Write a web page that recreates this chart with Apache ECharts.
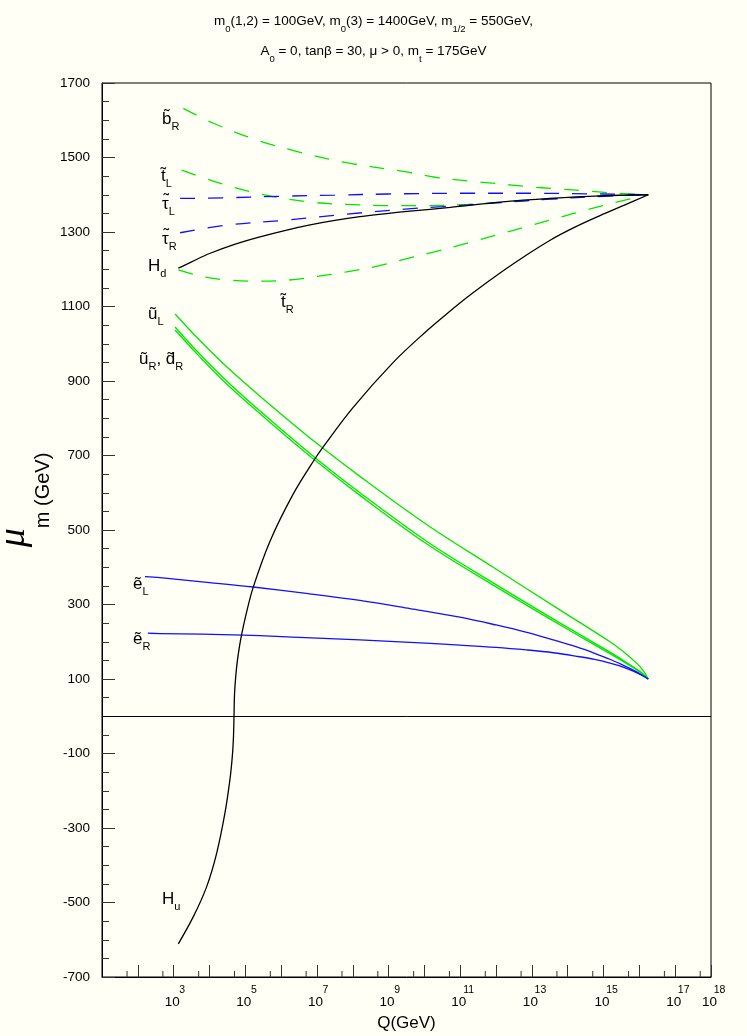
<!DOCTYPE html>
<html>
<head>
<meta charset="utf-8">
<title>running masses</title>
<script src="https://cdn.jsdelivr.net/npm/echarts@6.0.0/dist/echarts.min.js"></script>
<style>
html,body{margin:0;padding:0;background:#fffff5;}
#chart{width:747px;height:1036px;}
</style>
</head>
<body>
<div id="chart"></div>
<script>
// x = log10(Q/GeV), y = mass parameter in GeV
var bR   = [[3.27,1632],[4.11,1592],[5.32,1547],[6.53,1514],[7.83,1486],[9.45,1462],[10.30,1447],[11.23,1437],[12.02,1430],[12.86,1422],[13.69,1416],[14.58,1410],[15.32,1404],[16.25,1400]];
var tL   = [[3.22,1466],[4.0,1440],[4.53,1424],[5.32,1404],[6.20,1388],[6.95,1379],[7.83,1374],[9.0,1371],[10.0,1371],[11.23,1374],[12.9,1385],[14.58,1395],[16.25,1400]];
var tauL = [[3.18,1390],[4.5,1392],[6.0,1396],[7.5,1399],[9.0,1402],[11.0,1404],[13.0,1404],[15.0,1402],[16.25,1400]];
var tauR = [[3.18,1298],[4.53,1319],[6.15,1332],[7.83,1348],[9.55,1362],[10.5,1368],[12.0,1378],[13.5,1388],[15.0,1396],[16.25,1400]];
var tR   = [[3.13,1198],[3.6,1185],[4.0,1177],[4.53,1171],[5.32,1168],[6.2,1171],[6.95,1180],[7.83,1193],[8.62,1207],[9.4,1226],[10.3,1247],[11.23,1271],[12.02,1292],[12.9,1316],[13.69,1337],[14.58,1361],[15.32,1379],[16.25,1400]];
var Hd   = [[3.13,1203],[3.5,1220],[4.02,1243],[4.7,1267],[5.41,1287],[6.1,1304],[6.81,1319],[7.5,1331],[8.2,1341],[9.0,1350],[9.6,1356],[10.72,1366],[12.11,1380],[13.51,1390],[14.9,1397],[16.25,1400]];
var Hu   = [[3.13,-611],[3.55,-538],[3.92,-458],[4.2,-368],[4.43,-261],[4.57,-171],[4.64,-105],[4.67,-55],[4.685,0],[4.70,60],[4.73,103],[4.77,142],[4.84,189],[4.91,225],[5.02,273],[5.22,346],[5.69,470],[6.34,597],[6.95,692],[7.18,724],[8.0,828],[9.13,950],[10.0,1029],[10.62,1080],[11.32,1134],[12.11,1190],[12.8,1235],[13.51,1278],[14.2,1313],[14.9,1344],[15.6,1373],[16.25,1400]];
var uL   = [[3.04,1080],[3.7,1012],[4.48,938],[5.5,852],[6.95,736],[8.2,644],[10.06,515],[11.92,400],[13.79,285],[15.18,200],[15.6,170],[15.93,142],[16.1,124],[16.25,100]];
var uR   = [[3.04,1045],[3.7,975],[4.48,900],[5.5,812],[6.95,694],[8.2,600],[10.06,470],[11.92,358],[13.79,250],[15.18,172],[15.6,147],[15.93,126],[16.1,114],[16.25,100]];
var dR   = [[3.04,1037],[3.7,968],[4.48,892],[5.5,805],[6.95,687],[8.2,593],[10.06,463],[11.92,352],[13.79,245],[15.18,168],[15.6,144],[15.93,124],[16.1,113],[16.25,100]];
var eL   = [[2.2,375],[2.62,372],[4.0,359],[5.22,347],[6.7,330],[8.2,311],[9.6,289],[10.99,266],[12.0,245],[12.86,225],[13.6,205],[14.25,186],[14.75,169],[15.18,153],[15.55,137],[15.83,124],[16.05,112],[16.25,100]];
var eR   = [[2.28,223],[2.62,222],[4.95,218],[6.5,212],[8.2,205],[9.6,198.5],[10.99,191],[12.0,185],[12.86,178],[13.6,170.5],[14.25,161],[14.75,152.5],[15.18,142.5],[15.55,132],[15.83,121],[16.05,111],[16.25,100]];

var xLabelExp = [3,5,7,9,11,13,15,17,18];
var xMinorExp = [1,2,3,4,5,6,7,8,9,10,11,12,13,14,15,16,17];
var yMin = -700, yMax = 1700;

var font = '"Liberation Sans", Arial, sans-serif';
var green = '#00e600', blue = '#1010ff';

function curve(data, color, dashed, width) {
	return {
		type: 'line',
		data: data,
		symbol: 'none',
		smooth: 0.35,
		silent: true,
		lineStyle: {color: color, width: width || 1.3, type: dashed ? [15, 13] : 'solid'},
		z: 3
	};
}

// curve names; sep = tilde drawn as its own glyph (tau has no good combining tilde)
var curveLabels = [
	{t: 'b\u0303', s: 'R', x: 162, y: 117},
	{t: 't\u0303', s: 'L', x: 161, y: 174},
	{t: '\u03C4', sep: true, s: 'L', x: 162, y: 202},
	{t: '\u03C4', sep: true, s: 'R', x: 162, y: 237},
	{t: 'H', s: 'd', x: 148, y: 264},
	{t: 't\u0303', s: 'R', x: 281, y: 300},
	{t: '\u0169', s: 'L', x: 148, y: 312},
	{t: '\u0169', s: 'R', t2: ', d\u0303', s2: 'R', x: 139, y: 357},
	{t: '\u1EBD', s: 'L', x: 133, y: 582},
	{t: '\u1EBD', s: 'R', x: 133, y: 637},
	{t: 'H', s: 'u', x: 162, y: 897}
];
var labelRich = {
	a: {fontSize: 17, fontFamily: font, lineHeight: 20, color: '#000'},
	s: {fontSize: 11, fontFamily: font, lineHeight: 20, padding: [14, 0, 0, 0], color: '#000'}
};
var graphics = [];
curveLabels.forEach(function (l) {
	var txt = '{a|' + l.t + '}{s|' + l.s + '}';
	if (l.t2) txt += '{a|' + l.t2 + '}{s|' + l.s2 + '}';
	graphics.push({
		type: 'text', left: l.x, top: l.y - 10, silent: true,
		style: {text: txt, rich: labelRich, fill: '#000', font: '17px ' + font}
	});
	if (l.sep) {
		graphics.push({
			type: 'text', left: l.x + 1.5, top: l.y - 10, silent: true,
			style: {text: '{a|\u02DC}', rich: labelRich, fill: '#000', font: '17px ' + font}
		});
	}
});

var minorTickSeries = {
	type: 'custom',
	silent: true,
	clip: false,
	data: xMinorExp.map(function (e) { return [e + Math.log10(5), yMin]; }),
	renderItem: function (params, api) {
		var p = api.coord([api.value(0), api.value(1)]);
		return {type: 'line', shape: {x1: p[0], y1: p[1], x2: p[0], y2: p[1] - 6}, style: {stroke: '#333', lineWidth: 1}};
	},
	z: 4
};

var huSeries = curve(Hu, '#000', false, 1.3);
huSeries.markLine = {
	silent: true, symbol: ['none', 'none'], label: {show: false},
	lineStyle: {color: '#000', width: 1, type: 'solid'},
	data: [{yAxis: 0}]
};

var chart = echarts.init(document.getElementById('chart'), null, {renderer: 'canvas'});
chart.setOption({
	animation: false,
	backgroundColor: '#fffff5',
	title: {
		left: 'center',
		top: 6,
		padding: 0,
		text: 'm{s|0}(1,2) = 100GeV, m{s|0}(3) = 1400GeV, m{s|1/2} = 550GeV,\nA{s|0} = 0, tan\u03B2 = 30, \u03BC > 0, m{s|t} = 175GeV',
		textStyle: {
			fontSize: 13.5, fontWeight: 'normal', fontFamily: font, color: '#000', lineHeight: 30,
			rich: {s: {fontSize: 9.5, fontFamily: font, lineHeight: 30, padding: [17, 0, 0, 0], color: '#000'}}
		}
	},
	grid: {left: 102, right: 36, top: 83, bottom: 59, show: true, borderColor: '#000', borderWidth: 1, containLabel: false, outerBoundsMode: 'none'},
	xAxis: {
		type: 'value', min: 1, max: 18, interval: 1,
		axisLine: {onZero: false, lineStyle: {color: '#000', width: 1}},
		axisTick: {inside: true, length: 12, lineStyle: {color: '#333'}},
		splitLine: {show: false},
		axisLabel: {
			margin: 14, showMaxLabel: true, showMinLabel: false, hideOverlap: false,
			formatter: function (v) {
				if (xLabelExp.indexOf(v) < 0) return '';
				return '{b|10}{e|' + v + '}';
			},
			rich: {
				b: {fontSize: 13.5, fontFamily: font, color: '#000', lineHeight: 22},
				e: {fontSize: 10.5, fontFamily: font, color: '#000', lineHeight: 22, width: 1, padding: [0, 0, 23, 2]}
			}
		},
		name: 'Q(GeV)', nameLocation: 'middle', nameGap: 38, nameMoveOverlap: false,
		nameTextStyle: {fontSize: 17, fontFamily: font, color: '#000'}
	},
	yAxis: {
		type: 'value', min: yMin, max: yMax, interval: 200,
		axisLine: {show: true, onZero: false, lineStyle: {color: '#000', width: 1}},
		axisTick: {show: true, inside: true, length: 13, lineStyle: {color: '#333'}},
		minorTick: {show: true, splitNumber: 4, length: 7, lineStyle: {color: '#333'}},
		splitLine: {show: false},
		axisLabel: {margin: 12, fontSize: 13.5, fontFamily: font, color: '#000', formatter: function (v) { return String(v); }},
		name: '{mu|\u03BC}{sub|m (GeV)}', nameLocation: 'middle', nameRotate: 90, nameGap: 58, nameMoveOverlap: false,
		nameTextStyle: {
			padding: [0, 0, 0, 60],
			rich: {
				mu: {fontSize: 38, fontFamily: '"Liberation Serif", serif', fontStyle: 'italic', lineHeight: 60, color: '#000'},
				sub: {fontSize: 20, fontFamily: font, lineHeight: 12, padding: [59, 0, 0, 0], color: '#000'}
			}
		}
	},
	graphic: graphics,
	series: [
		curve(bR, green, true),
		curve(tL, green, true),
		curve(tR, green, true),
		curve(tauL, blue, true),
		curve(tauR, blue, true),
		curve(Hd, '#000', false),
		curve(uL, green, false),
		curve(uR, green, false),
		curve(dR, green, false),
		curve(eL, blue, false),
		curve(eR, blue, false),
		huSeries,
		minorTickSeries
	]
});
</script>
</body>
</html>
